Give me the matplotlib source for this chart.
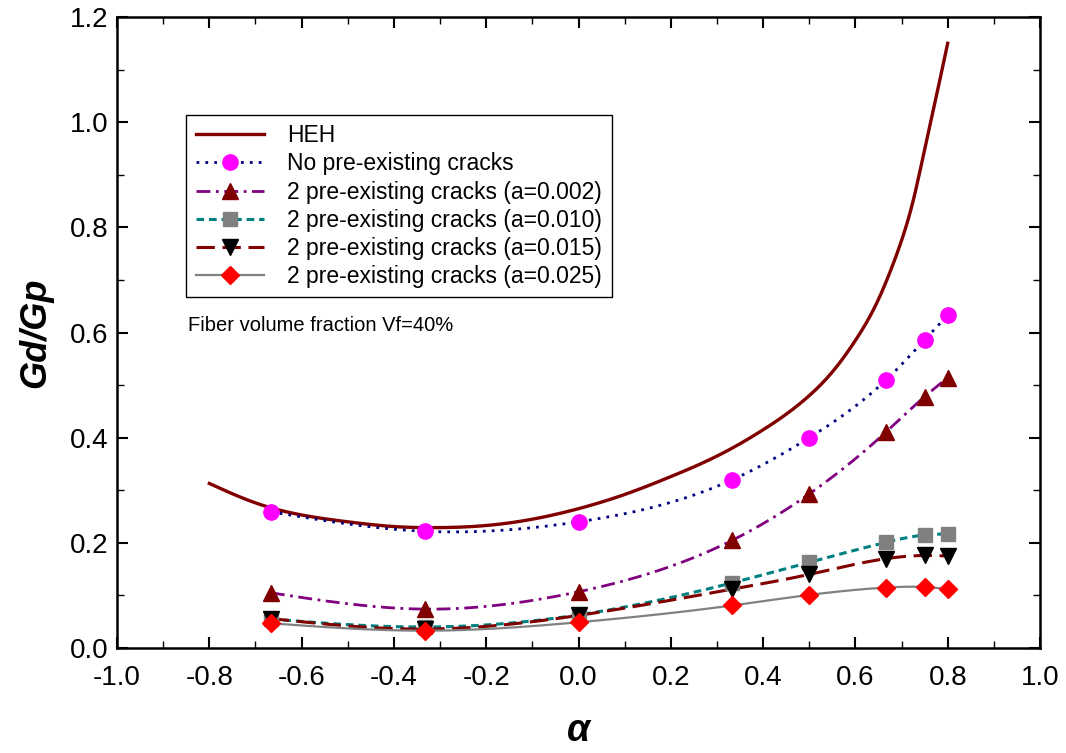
import numpy as np
import matplotlib.pyplot as plt
from matplotlib.ticker import MultipleLocator

plt.rcParams['font.family'] = ['Liberation Sans', 'DejaVu Sans']

# HEH curve (no markers)
heh_x = [-0.8, -0.7, -0.6, -0.5, -0.4, -0.3, -0.2, -0.1, 0.0, 0.1, 0.2,
         0.3, 0.4, 0.5, 0.55, 0.6, 0.65, 0.675, 0.7, 0.725, 0.75, 0.775, 0.8]
heh_y = [0.313, 0.276, 0.253, 0.240, 0.231, 0.229, 0.233, 0.245, 0.265, 0.292, 0.326,
         0.365, 0.415, 0.480, 0.525, 0.585, 0.663, 0.715, 0.775, 0.850, 0.948, 1.048, 1.150]

# alpha values of the computed points
alpha = [-2/3, -1/3, 0.0, 1/3, 0.5, 2/3, 0.75, 0.8]

no_cracks = [0.259, 0.222, 0.240, 0.320, 0.400, 0.510, 0.586, 0.633]
a002 = [0.105, 0.074, 0.107, 0.205, 0.293, 0.411, 0.478, 0.514]
a010 = [0.055, 0.040, 0.063, 0.124, 0.163, 0.201, 0.215, 0.217]
a015 = [0.056, 0.036, 0.062, 0.112, 0.140, 0.170, 0.176, 0.175]
a025 = [0.047, 0.033, 0.049, 0.081, 0.101, 0.115, 0.116, 0.112]

labels = ['HEH', 'No pre-existing cracks',
          '2 pre-existing cracks (a=0.002)', '2 pre-existing cracks (a=0.010)',
          '2 pre-existing cracks (a=0.015)', '2 pre-existing cracks (a=0.025)']


def smooth(x, y, n=300):
    # natural cubic spline through the points, just for drawing the line
    x = np.asarray(x, float)
    y = np.asarray(y, float)
    k = len(x)
    h = np.diff(x)
    A = np.zeros((k, k))
    b = np.zeros(k)
    A[0, 0] = A[-1, -1] = 1
    for i in range(1, k - 1):
        A[i, i - 1] = h[i - 1]
        A[i, i] = 2 * (h[i - 1] + h[i])
        A[i, i + 1] = h[i]
        b[i] = 6 * ((y[i + 1] - y[i]) / h[i] - (y[i] - y[i - 1]) / h[i - 1])
    M = np.linalg.solve(A, b)
    xs = np.linspace(x[0], x[-1], n)
    j = np.clip(np.searchsorted(x, xs) - 1, 0, k - 2)
    t0 = x[j + 1] - xs
    t1 = xs - x[j]
    hj = h[j]
    ys = (M[j] * t0**3 + M[j + 1] * t1**3) / (6 * hj) \
        + (y[j] / hj - M[j] * hj / 6) * t0 + (y[j + 1] / hj - M[j + 1] * hj / 6) * t1
    return xs, ys


fig = plt.figure(figsize=(10.66, 7.53), dpi=100)
ax = fig.add_axes([0.1098, 0.1394, 0.8658, 0.838])

handles = []

xs, ys = smooth(heh_x, heh_y)
h, = ax.plot(xs, ys, '-', color='#800000', lw=2.4)
handles.append(h)

series = [
    (no_cracks, dict(color='#000080', ls=(0, (1, 2.2)), lw=2.0),
     dict(marker='o', color='#FF00FF', ms=11)),
    (a002, dict(color='#800080', ls=(0, (5, 2, 1, 2)), lw=2.0),
     dict(marker='^', color='#800000', ms=12)),
    (a010, dict(color='#008080', ls=(0, (2.5, 1.6)), lw=2.2),
     dict(marker='s', color='#808080', ms=10)),
    (a015, dict(color='#800000', ls=(0, (6, 2.5)), lw=2.2),
     dict(marker='v', color='#000000', ms=12)),
    (a025, dict(color='#808080', ls='-', lw=1.6),
     dict(marker='D', color='#FF0000', ms=9)),
]

for vals, lstyle, mstyle in series:
    xs, ys = smooth(alpha, vals)
    ax.plot(xs, ys, zorder=2, **lstyle)
    ax.plot(alpha, vals, ls='none', marker=mstyle['marker'], ms=mstyle['ms'],
            mfc=mstyle['color'], mec=mstyle['color'], zorder=3)
    h, = ax.plot([], [], marker=mstyle['marker'], ms=mstyle['ms'],
                 mfc=mstyle['color'], mec=mstyle['color'], **lstyle)
    handles.append(h)

ax.set_xlim(-1.0, 1.0)
ax.set_ylim(0.0, 1.2)
ax.xaxis.set_major_locator(MultipleLocator(0.2))
ax.xaxis.set_minor_locator(MultipleLocator(0.1))
ax.yaxis.set_major_locator(MultipleLocator(0.2))
ax.yaxis.set_minor_locator(MultipleLocator(0.1))
ax.xaxis.set_major_formatter(plt.FuncFormatter(lambda v, p: '%.1f' % v))
ax.yaxis.set_major_formatter(plt.FuncFormatter(lambda v, p: '%.1f' % v))
ax.tick_params(which='both', direction='in', top=True, right=True,
               labelsize=20, width=1.5)
ax.tick_params(which='major', length=8)
ax.tick_params(axis='x', which='major', pad=12)
ax.tick_params(axis='y', which='major', pad=6)
ax.tick_params(which='minor', length=5, width=1.0)
for s in ax.spines.values():
    s.set_linewidth(1.8)

ax.set_xlabel('α', fontsize=27, fontweight='bold', fontstyle='italic')
ax.xaxis.label.set_va('bottom')
ax.xaxis.set_label_coords(0.5, -0.16)
ax.set_ylabel('Gd/Gp', fontsize=26, fontweight='bold', fontstyle='italic',
              labelpad=12)

ax.text(-0.846, 0.614, 'Fiber volume fraction Vf=40%', fontsize=14.5, va='center')

leg = ax.legend(handles, labels, loc='upper left', bbox_to_anchor=(0.0748, 0.845),
                borderaxespad=0, fontsize=16.5, handlelength=3.0, handletextpad=1.0,
                labelspacing=0.22, borderpad=0.42, fancybox=False, framealpha=1,
                edgecolor='black')
leg.get_frame().set_linewidth(1.0)

fig.savefig('out.png', dpi=100)
